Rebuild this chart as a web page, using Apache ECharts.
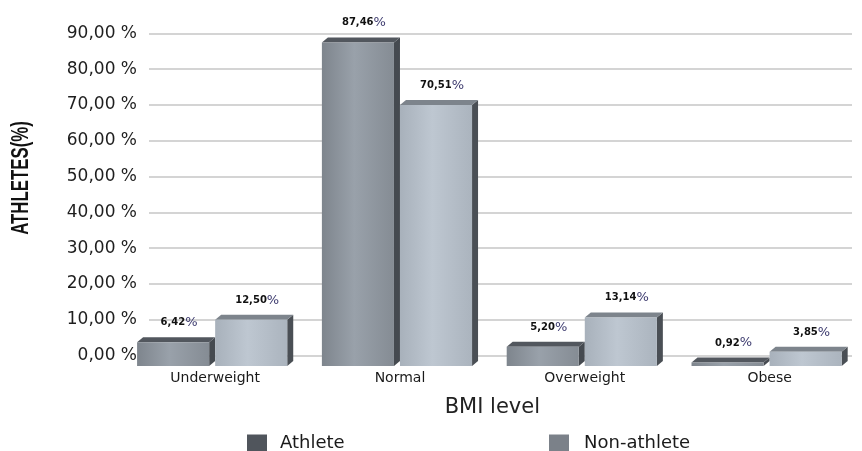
<!DOCTYPE html>
<html>
<head>
<meta charset="utf-8">
<script src="https://cdn.jsdelivr.net/npm/echarts@6/dist/echarts.min.js"></script>
<style>
  html, body { margin: 0; padding: 0; background: #ffffff; }
  #chart { width: 862px; height: 451px; }
</style>
</head>
<body>
<div id="chart"></div>
<script>
// BMI level distribution, athletes vs non-athletes (percent)
const categories = ['Underweight', 'Normal', 'Overweight', 'Obese'];
const athlete = [6.42, 87.46, 5.20, 0.92];
const nonAthlete = [12.50, 70.51, 13.14, 3.85];
const seriesNames = ['Athlete', 'Non-athlete'];
const yMin = 0, yMax = 90, yStep = 10;

const fmt = v => v.toFixed(2).replace('.', ',');

// Box look for each series: front face gradient, top face, side face
const looks = [
  { legend: '#50555c', front: ['#7e858d', '#99a1aa', '#858c94'], top: '#52575e', side: '#454a50' },
  { legend: '#7b8189', front: ['#a8b1bb', '#bec7d1', '#abb4be'], top: '#7d848c', side: '#4a4f55' }
];

function boxRenderer(seriesIdx) {
  const look = looks[seriesIdx];
  return function (params, api) {
    const ci = api.value(0);
    const v = api.value(1);
    const topPt = api.coord([ci, v]);
    const basePt = api.coord([ci, 0]);
    const band = api.size([1, 0])[0];
    const W = band * 0.39, D = 6, H = 5;
    const cx = topPt[0];
    const x0 = seriesIdx === 0 ? cx - W - D : cx;
    const x1 = x0 + W;
    const yT = topPt[1], yB = basePt[1];
    return {
      type: 'group',
      children: [
        {
          type: 'polygon',
          shape: { points: [[x1, yT], [x1 + D, yT - H], [x1 + D, yB - H], [x1, yB]] },
          style: { fill: look.side }
        },
        {
          type: 'polygon',
          shape: { points: [[x0, yT], [x0 + D, yT - H], [x1 + D, yT - H], [x1, yT]] },
          style: { fill: look.top }
        },
        {
          type: 'rect',
          shape: { x: x0, y: yT, width: W, height: yB - yT },
          style: {
            fill: {
              type: 'linear', x: 0, y: 0, x2: 1, y2: 0,
              colorStops: [
                { offset: 0, color: look.front[0] },
                { offset: 0.45, color: look.front[1] },
                { offset: 1, color: look.front[2] }
              ]
            }
          }
        },
        {
          type: 'text',
          style: {
            text: '{n|' + fmt(v) + '}{p|%}',
            x: (x0 + x1) / 2 + 6,
            y: yT - H - 8,
            align: 'center',
            verticalAlign: 'bottom',
            rich: {
              n: { font: 'bold 10px "DejaVu Sans"', fill: '#111111' },
              p: { font: '13px "DejaVu Sans"', fill: '#3c3a6e' }
            }
          }
        }
      ]
    };
  };
}

const chart = echarts.init(document.getElementById('chart'), null, { renderer: 'canvas' });

chart.setOption({
  animation: false,
  backgroundColor: '#ffffff',
  grid: [
    { left: 149, right: 10, top: 33.3, bottom: 95.5 },
    { left: 122.75, right: -14.25, top: 33, bottom: 85 }
  ],
  xAxis: [
    { gridIndex: 0, type: 'category', data: categories, show: false },
    {
      gridIndex: 1, type: 'category', data: categories,
      axisLine: { show: false }, axisTick: { show: false },
      axisLabel: { margin: 5, fontFamily: 'DejaVu Sans', fontSize: 14, color: '#1a1a1a' },
      name: 'BMI level', nameLocation: 'middle', nameGap: 31,
      nameTextStyle: { fontFamily: 'DejaVu Sans', fontSize: 21, color: '#222222' }
    }
  ],
  yAxis: [
    {
      gridIndex: 0, type: 'value', min: yMin, max: yMax, interval: yStep,
      axisLine: { show: false }, axisTick: { show: false },
      axisLabel: {
        margin: 12, fontFamily: 'DejaVu Sans', fontSize: 17, color: '#1e1e1e',
        formatter: v => fmt(v) + ' %'
      },
      splitLine: { lineStyle: { color: '#c6c6c6', width: 1.6 } }
    },
    { gridIndex: 1, type: 'value', min: yMin, max: yMax, show: false }
  ],
  legend: [
    {
      data: [seriesNames[0]], left: 242, top: 429, itemWidth: 20, itemHeight: 17,
      icon: 'rect',
      textStyle: { fontFamily: 'DejaVu Sans', fontSize: 18, color: '#1a1a1a', padding: [0, 0, 0, 8] }
    },
    {
      data: [seriesNames[1]], left: 544, top: 429, itemWidth: 20, itemHeight: 17,
      icon: 'rect',
      textStyle: { fontFamily: 'DejaVu Sans', fontSize: 18, color: '#1a1a1a', padding: [0, 0, 0, 10] }
    }
  ],
  graphic: [
    {
      type: 'text', x: 21, y: 178, rotation: Math.PI / 2, scaleX: 0.7,
      style: {
        text: 'ATHLETES(%)',
        font: 'bold 24px "Liberation Sans", Arial, sans-serif',
        fill: '#111111', align: 'center', verticalAlign: 'middle'
      }
    }
  ],
  series: [athlete, nonAthlete].map((vals, s) => ({
    name: seriesNames[s],
    type: 'custom',
    xAxisIndex: 1, yAxisIndex: 1,
    clip: false,
    itemStyle: { color: looks[s].legend },
    renderItem: boxRenderer(s),
    data: vals.map((v, i) => [i, v])
  }))
});
</script>
</body>
</html>
